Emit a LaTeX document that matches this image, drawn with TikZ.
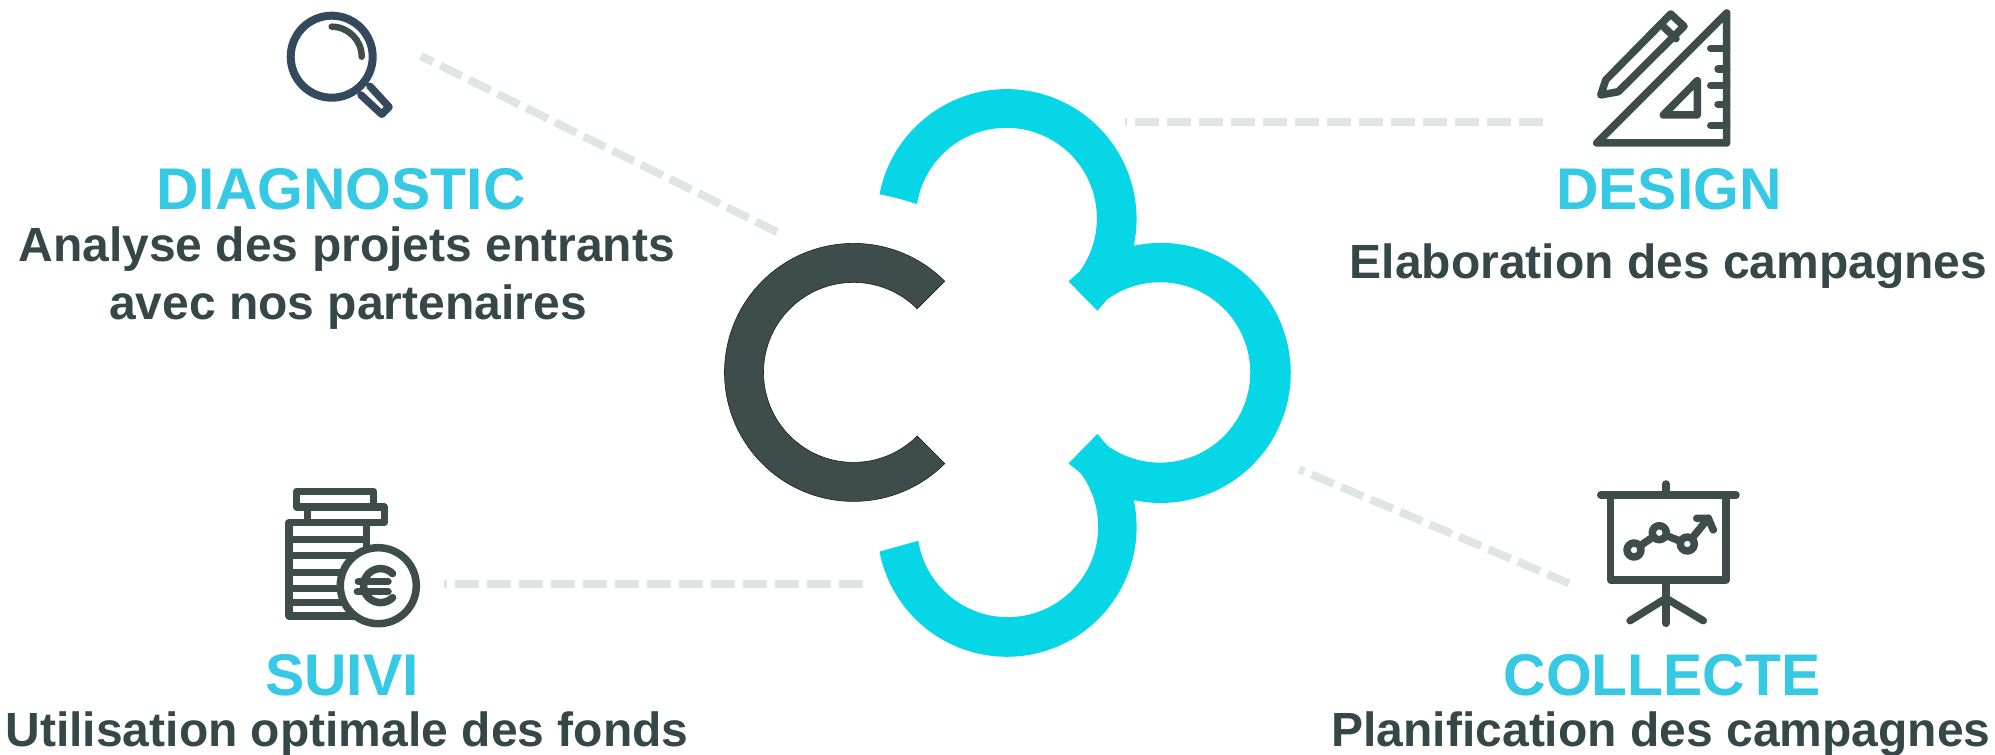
\documentclass[tikz,border=0pt]{standalone}
\usepackage{fontspec}
\setmainfont{Liberation Sans}
\definecolor{cyanlogo}{HTML}{07D6E6}
\definecolor{darklogo}{HTML}{3E4C4C}
\definecolor{headcol}{HTML}{35C9E4}
\definecolor{bodycol}{HTML}{36474A}
\definecolor{dashcol}{HTML}{DFE5E3}
\definecolor{lenscol}{HTML}{34495E}
\tikzset{
  headtxt/.style={anchor=base,text=headcol,font=\fontsize{58.8}{59}\selectfont\bfseries},
  bodytxt/.style={anchor=base,text=bodycol,font=\fontsize{48}{48}\selectfont\bfseries},
  dashline/.style={draw=dashcol,line width=8pt,dash pattern=on 24pt off 8pt},
  icon/.style={draw=darklogo,line width=7.5pt,line cap=round,line join=round}
}
\begin{document}
\begin{tikzpicture}[x=1pt,y=1pt]
\useasboundingbox (0,0) rectangle (1995,755);
%
\coordinate (diagA) at (421,699);
\coordinate (diagB) at (777,523);
\coordinate (desA) at (1125,633);
\coordinate (desB) at (1543.3,633);
\coordinate (suiA) at (444.3,171);
\coordinate (suiB) at (863,171);
\coordinate (colA) at (1299.3,285.7);
\coordinate (colB) at (1569,171.7);
%
\path[dashline,dash phase=10.5pt] (diagA) edge (diagB);
\path[dashline,dash phase=21.7pt] (desA) edge (desB);
\path[dashline,dash phase=21.3pt] (suiA) edge (suiB);
\path[dashline,dash phase=18.6pt] (colA) edge (colB);
%
% logo
\fill[darklogo,draw=black!55!darklogo,line width=.6pt] (853.5,382.6) ++(45:129) arc[start angle=45,end angle=315,radius=129]
   -- ++(135:39) arc[start angle=315,end angle=45,radius=90] -- cycle;
\fill[cyanlogo] (879.5,560.7) arc[start angle=169.1,end angle=-12,radius=129.7]
   arc[start angle=102,end angle=-102,radius=130]
   arc[start angle=12,end angle=-169.1,radius=129.7]
   .. controls (898,208.4) .. (918.3,214.2) arc[start angle=-171,end angle=36,radius=90.5]
   -- (1068.5,291.6) -- (1097.4,321) -- (1107.3,309.4)
   arc[start angle=-125.8,end angle=125.8,radius=90.2]
   -- (1097.4,444.3) -- (1068.5,473.6) -- (1079.6,483.5)
   arc[start angle=-36,end angle=171,radius=90.5]
   .. controls (898,556.8) .. (879.5,560.7) -- cycle;
%
% magnifier
\draw[icon,draw=lenscol,line width=8pt] (331.7,698.3) circle (41);
\draw[icon,line width=6.5pt] (331.7,728.3) arc[start angle=90,end angle=0,radius=30];
\draw[icon,draw=lenscol] (370,668.7) -- (389,648) -- (381.7,640.7) -- (361,660);
%
% ruler and pencil
\draw[icon] (1726.7,742) -- (1726.7,612) -- (1596.7,612) -- cycle;
\foreach \yy/\xx in {706.7/1710.7,686/1718,669.3/1710.7,650.7/1718,629.3/1710.7}
  \draw[icon] (1726.7,\yy) -- (\xx,\yy);
\draw[icon] (1697.3,674.3) -- (1697.3,640) -- (1663.3,640) -- cycle;
\draw[icon] (1600.7,660) -- (1605.7,675) -- (1670.7,741) -- (1684,728.7) -- (1618.3,663.3) -- cycle;
\draw[icon] (1660.7,731) -- (1676,716.3);
%
% coins
\draw[icon] (296.7,248) rectangle (373.7,263.7);
\draw[icon] (307.7,248) rectangle (384.3,232.7);
\draw[icon] (366.3,208) -- (366.3,232.3) -- (289,232.3) -- (289,139) -- (366,139);
\foreach \yy in {215.7,199.3,182.7,166.7,152.7}
  \draw[icon,line cap=butt] (289,\yy) -- (366,\yy);
\draw[icon,fill=white] (378.3,169.3) circle (38);
\draw[icon] (392.6,181.4) arc[start angle=45,end angle=315,radius=17];
\draw[icon] (358.3,173.3) -- (388,173.3);
\draw[icon] (357.3,163.3) -- (388,163.3);
%
% board
\draw[icon] (1600.7,260) -- (1736,260);
\draw[icon] (1666,271) -- (1666,260);
\draw[icon] (1610.7,260) -- (1610.7,175) -- (1726,175) -- (1726,260);
\draw[icon] (1666,175) -- (1666,131.7);
\draw[icon] (1630,134.3) -- (1666,156.7) -- (1703.3,134.3);
\draw[icon] (1634,205) -- (1659.3,222.3) -- (1687.3,211) -- (1708.3,236.7);
\draw[icon] (1696.7,236.7) -- (1708.3,236.7) -- (1713.3,225);
\foreach \xx/\yy in {1634/205,1659.3/222.3,1687.3/211}
  \draw[icon,fill=white] (\xx,\yy) circle (7);
%
\node [headtxt] at (341,545) (diag) {DIAGNOSTIC};
\node [bodytxt] at (346.7,493) (diaga) {Analyse des projets entrants};
\node [bodytxt] at (348,435) (diagb) {avec nos partenaires};
\node [headtxt] at (1669,545) (des) {DESIGN};
\node [bodytxt] at (1668.6,476.4) (desa) {Elaboration des campagnes};
\node [headtxt] at (342,59) (sui) {SUIVI};
\node [bodytxt] at (347,8) (suia) {Utilisation optimale des fonds};
\node [headtxt] at (1662,59) (col) {COLLECTE};
\node [bodytxt] at (1661,8) (cola) {Planification des campagnes};
\end{tikzpicture}
\end{document}
